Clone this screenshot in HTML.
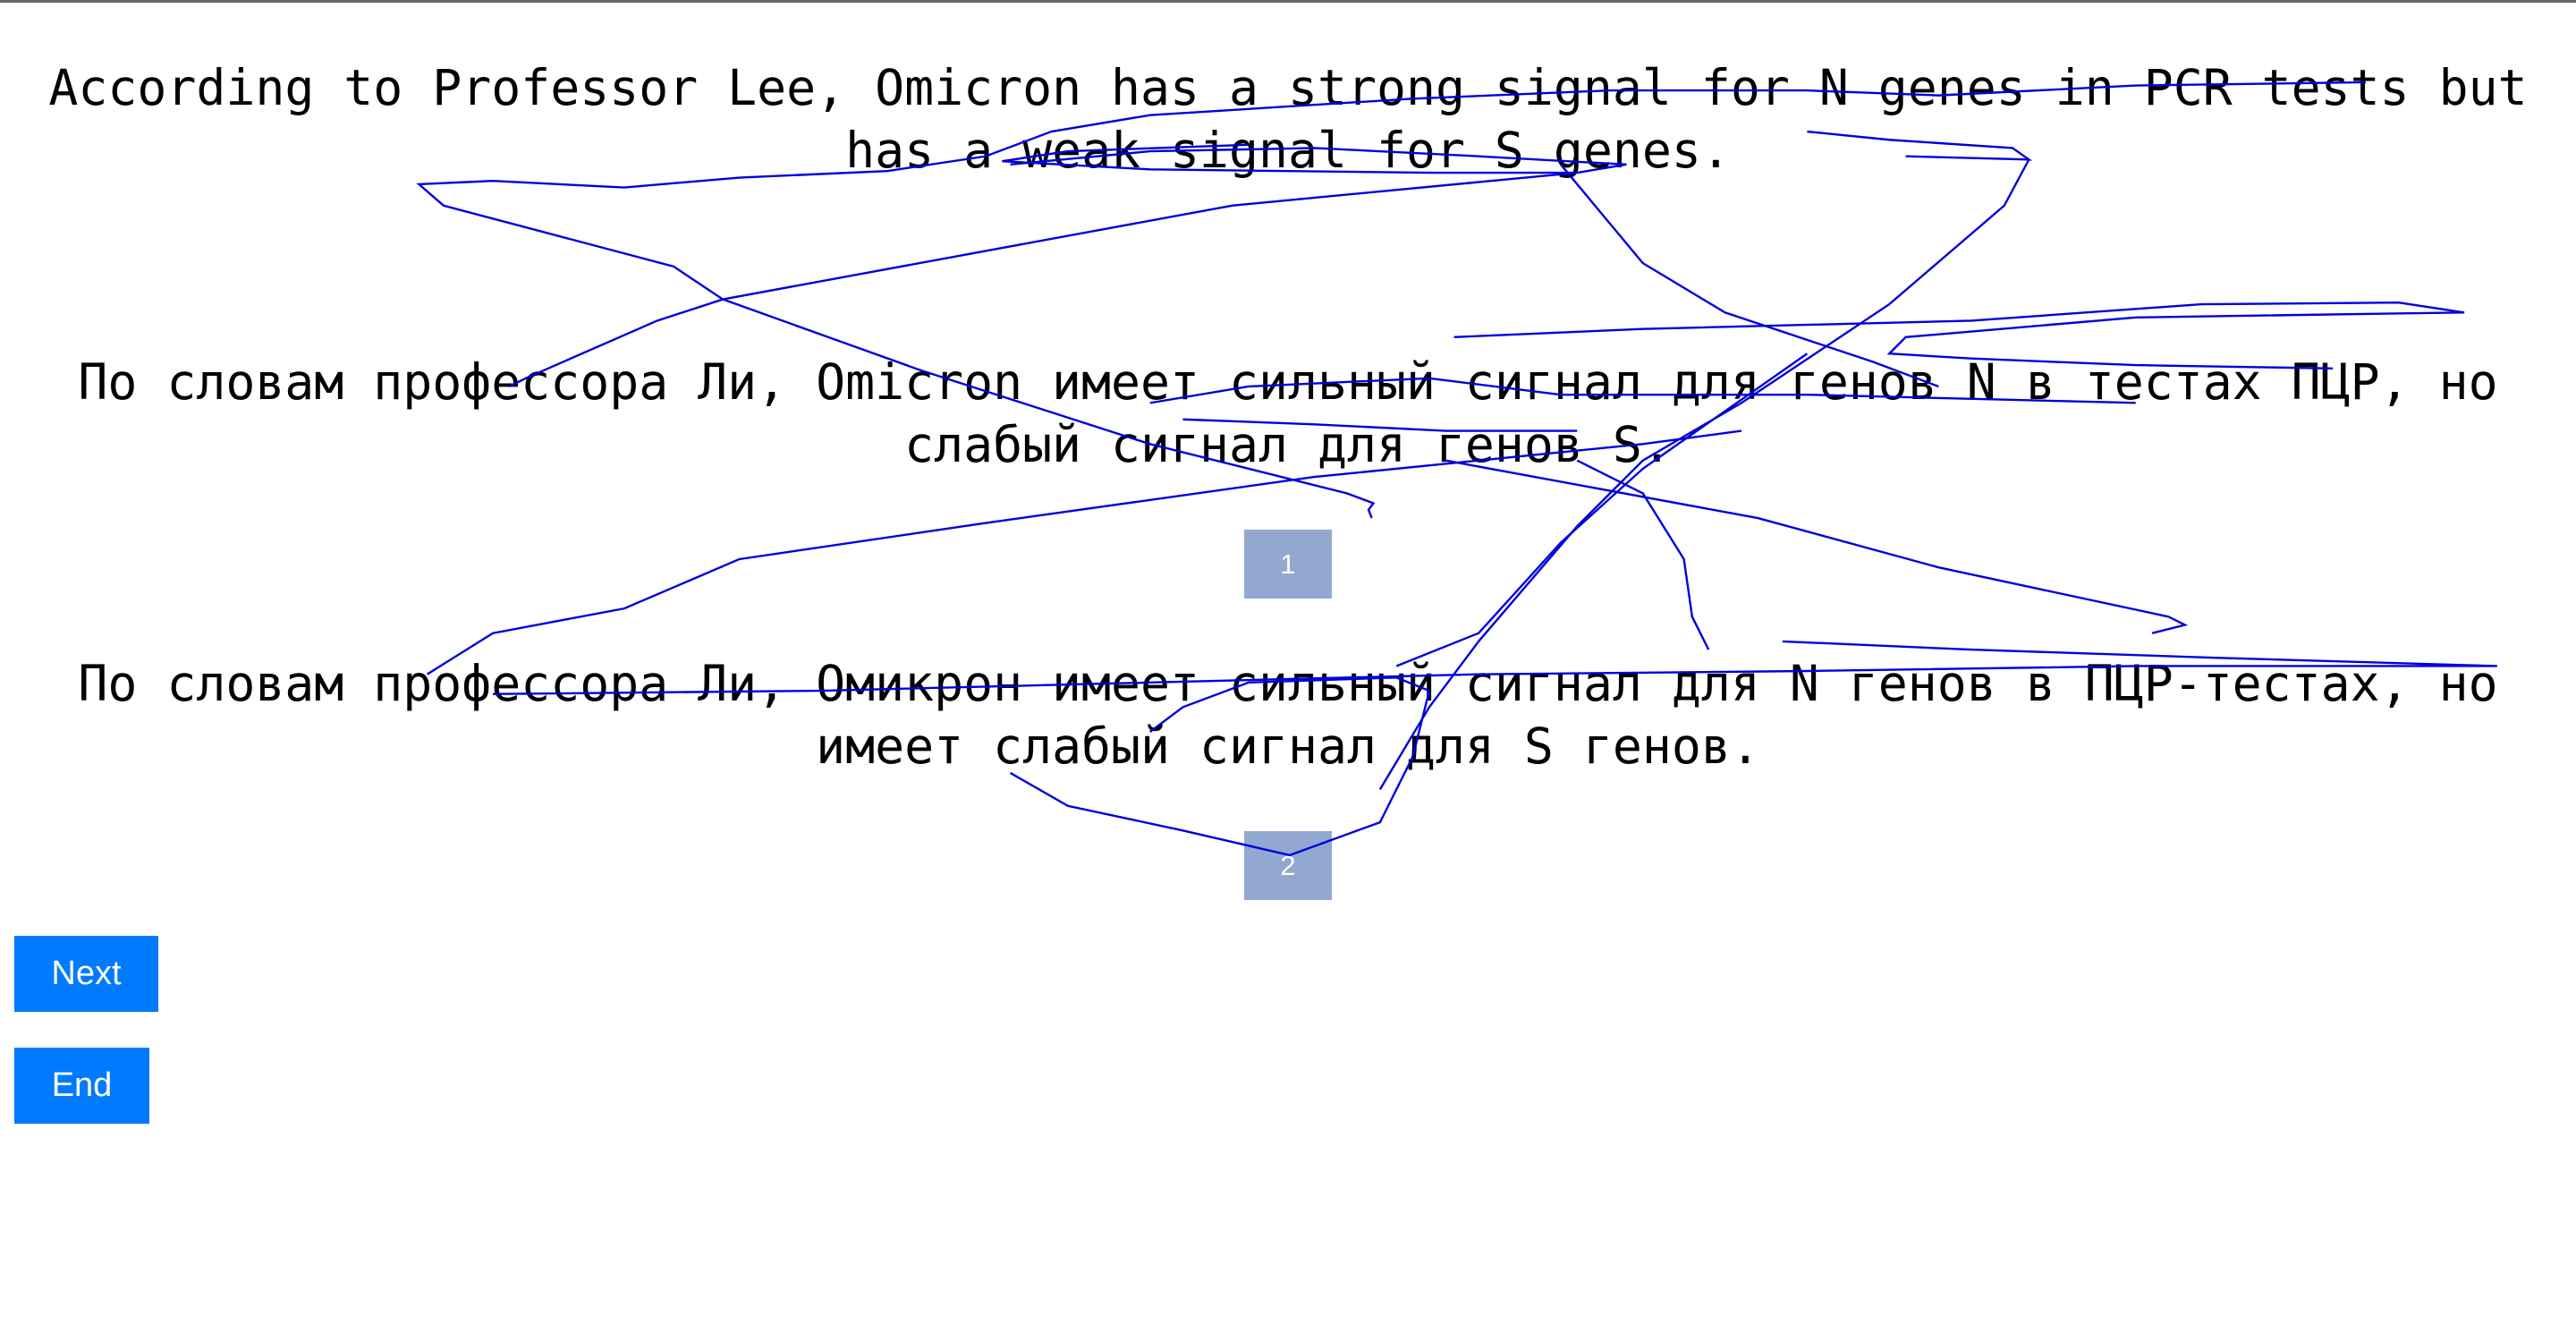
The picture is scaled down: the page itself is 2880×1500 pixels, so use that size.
<!DOCTYPE html>
<html><head><meta charset="utf-8"><style>
html,body{margin:0;padding:0;width:2880px;height:1500px;background:#fff;overflow:hidden;position:relative}
.top{position:absolute;left:0;top:0;width:2880px;height:3px;background:#666}
.p{position:absolute;left:0;width:2880px;text-align:center;font-family:"DejaVu Sans Mono","Liberation Mono",monospace;font-size:54.8px;line-height:70px;color:#000;white-space:nowrap}
.box{position:absolute;left:1391px;width:98px;height:77px;background:#92a8d0;color:#fff;font-family:"Liberation Sans",Arial,sans-serif;font-size:31px;display:flex;align-items:center;justify-content:center}
.btn{position:absolute;left:16px;height:85px;background:#007bff;color:#fff;font-family:"Liberation Sans",Arial,sans-serif;font-size:38px;display:flex;align-items:center;justify-content:center}
svg{position:absolute;left:0;top:0}
</style></head><body>
<div class="top"></div>
<div class="p" style="top:63px">According to Professor Lee, Omicron has a strong signal for N genes in PCR tests but<br>has a weak signal for S genes.</div>
<div class="p" style="top:392px">По словам профессора Ли, Omicron имеет сильный сигнал для генов N в тестах ПЦР, но<br>слабый сигнал для генов S.</div>
<div class="box" style="top:592px">1</div>
<div class="p" style="top:729px">По словам профессора Ли, Омикрон имеет сильный сигнал для N генов в ПЦР-тестах, но<br>имеет слабый сигнал для S генов.</div>
<div class="box" style="top:929px">2</div>
<div class="btn" style="top:1046px;width:161px">Next</div>
<div class="btn" style="top:1171px;width:151px">End</div>
<svg width="2880" height="1500" viewBox="0 0 1568 816" preserveAspectRatio="none">
<g fill="none" stroke="#0000dd" stroke-width="1.3">
<polyline points="835,315 833,310 836,306 820,300 700,270 560,225 440,182 410,162 270,125 255,112 300,110 380,114 450,108 540,104 600,95 640,80 700,70 860,60 980,55 1100,55 1180,58 1300,52 1440,50"/>
<polyline points="960,105 750,125 440,182 400,195 320,230 310,235"/>
<polyline points="615,100 700,92 800,90 900,95 990,100 960,105 870,105 700,103 610,98 650,92 760,88"/>
<polyline points="950,100 975,130 1000,160 1050,190 1140,220 1180,235"/>
<polyline points="1235,97 1220,125 1150,185 1060,245 1000,280 960,320 900,390 870,430 840,480"/>
<polyline points="1160,95 1235,97 1225,90 1150,85 1100,80"/>
<polyline points="1100,215 1050,250 1000,285 950,330 900,385 850,405"/>
<polyline points="260,410 300,385 380,370 450,340 600,318 800,290 1000,270 1060,262"/>
<polyline points="880,280 1070,315 1180,345 1250,360 1320,375 1330,380 1310,385"/>
<polyline points="885,205 1000,200 1200,195 1340,185 1460,184 1500,190 1300,193 1160,205 1150,215 1200,218 1300,222 1420,224"/>
<polyline points="1085,390 1200,395 1350,400 1520,405 1300,405 1100,408 900,410 700,415 500,420 300,422"/>
<polyline points="615,470 650,490 720,505 785,520 840,500 860,460 870,420 850,412 760,415 720,430 700,445"/>
<polyline points="960,280 1000,300 1025,340 1030,375 1040,395"/>
<polyline points="700,245 760,235 870,230 950,240 1100,240 1300,245"/>
<polyline points="720,255 800,258 880,262 960,262"/>
</g>
</svg>
</body></html>
